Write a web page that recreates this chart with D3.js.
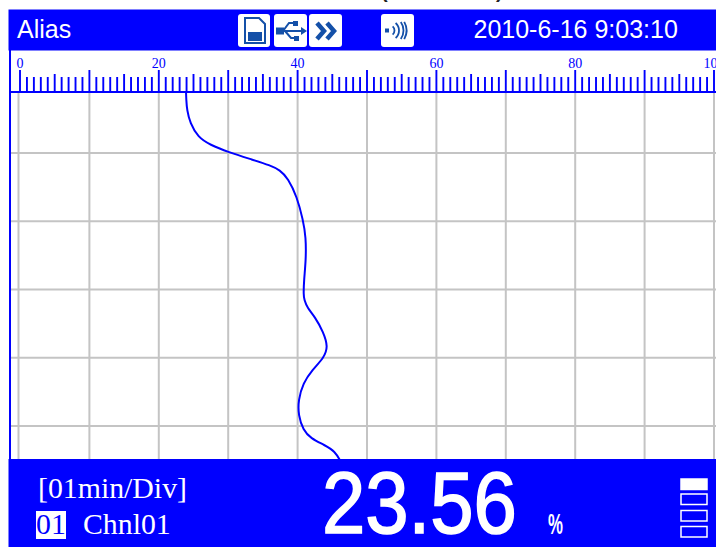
<!DOCTYPE html>
<html>
<head>
<meta charset="utf-8">
<script src="https://cdn.jsdelivr.net/npm/d3@7"></script>
<style>
  html, body { margin: 0; padding: 0; background: #fff; overflow: hidden; }
  svg { display: block; }
  .sans { font-family: "Liberation Sans", Arial, sans-serif; }
  .serif { font-family: "Liberation Serif", "Times New Roman", serif; }
</style>
</head>
<body>
<script>
const width = 716;
const height = 547;
const blue = "#0000ff";
const iconBlue = "#1450a8";

// recorder readings, newest at the top of the chart
const minutes = [0.10, 0.22, 0.37, 0.56, 0.77, 0.88, 0.985, 1.10, 1.18, 1.25, 1.37, 1.64, 1.98, 2.23, 2.57, 2.86, 3.08, 3.15,
  3.27, 3.40, 3.62, 3.84, 4.00, 4.18, 4.37, 4.62, 4.84, 5.06, 5.18, 5.28, 5.37, 5.52];
const values = [23.92, 23.96, 24.06, 24.5, 25.65, 27.38, 29.97, 33.57, 36.02, 37.46, 38.62, 39.91, 40.78, 41.2, 41.2, 40.92, 40.85, 40.96,
  41.4, 42.5, 43.7, 44.4, 43.8, 42.1, 40.8, 40.1, 40.1, 40.8, 41.9, 43.9, 45.4, 46.2];
const rulerLabels = [0, 20, 40, 60, 80, 100];
const minuteLines = [1, 2, 3, 4, 5];
const levelBars = [0, 1, 2, 3];

var svg = d3.select("body").append("svg")
    .attr("width", width)
    .attr("height", height);

const xScale = d3.scaleLinear().domain([0, 100]).range([20, 714]);
const yScale = d3.scaleLinear().domain([0, 6]).range([84.75, 494.25]);

const plotTop = 92;
const plotBottom = 459;

// clipped title left over above the screen
svg.selectAll("text.cut")
    .data([{t: "(", x: 381}, {t: ")", x: 496}])
    .enter()
    .append("text")
    .attr("class", "cut sans")
    .attr("x", function(d){ return d.x; })
    .attr("y", -2)
    .attr("font-size", 20)
    .attr("font-weight", "bold")
    .attr("fill", "#222")
    .text(function(d){ return d.t; });

// header band
svg.append("rect").attr("x", 8.5).attr("y", 9.5).attr("width", 707.5).attr("height", 41)
    .attr("fill", blue);
svg.append("rect").attr("x", 9).attr("y", 50).attr("width", 2).attr("height", 410)
    .attr("fill", blue);

svg.append("text").attr("class", "sans")
    .attr("x", 17).attr("y", 38).attr("font-size", 25).attr("fill", "#fff")
    .text("Alias");
svg.append("text").attr("class", "sans")
    .attr("x", 473.5).attr("y", 38).attr("font-size", 25).attr("fill", "#fff")
    .text("2010-6-16 9:03:10");

// status icons
function iconBox(x, w) {
  var g = svg.append("g").attr("transform", "translate(" + x + ",14)");
  g.append("rect").attr("width", w).attr("height", 33).attr("rx", 3).attr("fill", "#fff");
  return g;
}

var sd = iconBox(238, 32);
sd.append("path").attr("d", "M7 4H21L27 10V29H7Z")
    .attr("fill", "none").attr("stroke", iconBlue).attr("stroke-width", 2);
sd.append("rect").attr("x", 10).attr("y", 18).attr("width", 14).attr("height", 9).attr("fill", iconBlue);

var usb = iconBox(274, 33);
usb.append("path").attr("d", "M3 17H30M9 17L15 9H20M11 17L17 24H21")
    .attr("fill", "none").attr("stroke", iconBlue).attr("stroke-width", 2);
usb.append("rect").attr("x", 2).attr("y", 13.5).attr("width", 8).attr("height", 7).attr("fill", iconBlue);
usb.append("rect").attr("x", 19).attr("y", 7).attr("width", 5).attr("height", 5).attr("fill", iconBlue);
usb.append("rect").attr("x", 20).attr("y", 22).attr("width", 5).attr("height", 5).attr("fill", iconBlue);
usb.append("path").attr("d", "M27 13L33 17L27 21Z").attr("fill", iconBlue);

var more = iconBox(309, 33);
more.append("path").attr("d", "M8 9L15 17L8 25M18 9L25 17L18 25")
    .attr("fill", "none").attr("stroke", iconBlue).attr("stroke-width", 4.5);

var signal = iconBox(381, 33);
signal.append("rect").attr("x", 4).attr("y", 14.5).attr("width", 4).attr("height", 4).attr("fill", iconBlue);
signal.append("g").attr("transform", "translate(8,16.5)")
    .selectAll("path")
    .data([5.5, 10, 14.5, 17.5])
    .enter()
    .append("path")
    .attr("d", function(r){
      var a = Math.min(0.85, 9 / r);
      return d3.arc()({innerRadius: r - 0.9, outerRadius: r + 0.9, startAngle: Math.PI / 2 - a, endAngle: Math.PI / 2 + a});
    })
    .attr("fill", iconBlue);

// grid
var grid = svg.append("g").attr("stroke", "#c4c4c4").attr("stroke-width", 2);
grid.selectAll("line.v")
    .data(d3.range(0, 101, 10))
    .enter()
    .append("line")
    .attr("class", "v")
    .attr("x1", function(d){ return d == 0 ? 18.5 : xScale(d); })
    .attr("x2", function(d){ return d == 0 ? 18.5 : xScale(d); })
    .attr("y1", plotTop)
    .attr("y2", plotBottom);
grid.selectAll("line.h")
    .data(minuteLines)
    .enter()
    .append("line")
    .attr("class", "h")
    .attr("x1", 11)
    .attr("x2", width)
    .attr("y1", function(d){ return yScale(d); })
    .attr("y2", function(d){ return yScale(d); });

// ruler
var ruler = svg.append("g").attr("stroke", blue);
ruler.selectAll("line")
    .data(d3.range(0, 101))
    .enter()
    .append("line")
    .attr("x1", function(d){ return xScale(d); })
    .attr("x2", function(d){ return xScale(d); })
    .attr("y1", 92)
    .attr("y2", function(d){
      if (d % 10 == 0) return 70;
      if (d % 5 == 0) return 74;
      return 77;
    })
    .attr("stroke-width", 1.9);
svg.append("rect").attr("x", 9).attr("y", 91).attr("width", 707).attr("height", 2).attr("fill", blue);

svg.selectAll("text.rule")
    .data(rulerLabels)
    .enter()
    .append("text")
    .attr("class", "rule serif")
    .attr("x", function(d){ return xScale(d); })
    .attr("y", 68)
    .attr("text-anchor", "middle")
    .attr("font-size", 14)
    .attr("fill", blue)
    .text(function(d){ return d; });

// trend line
var line = d3.line()
    .x(function(d, i){ return xScale(values[i]); })
    .y(function(d){ return yScale(d); })
    .curve(d3.curveBasis);
svg.append("path")
    .attr("d", line(minutes))
    .attr("fill", "none")
    .attr("stroke", blue)
    .attr("stroke-width", 2);

// footer band
svg.append("rect").attr("x", 8.5).attr("y", 459).attr("width", 707.5).attr("height", 88).attr("fill", blue);

svg.append("text").attr("class", "serif")
    .attr("x", 38).attr("y", 498).attr("font-size", 29.8).attr("fill", "#fff")
    .text("[01min/Div]");
svg.append("rect").attr("x", 36).attr("y", 511).attr("width", 30).attr("height", 28).attr("fill", "#fff");
svg.append("text").attr("class", "serif")
    .attr("x", 36).attr("y", 534).attr("font-size", 29.8).attr("fill", blue)
    .text("01");
svg.append("text").attr("class", "serif")
    .attr("x", 83).attr("y", 534).attr("font-size", 29.8).attr("fill", "#fff")
    .text("Chnl01");

svg.append("text").attr("class", "sans")
    .attr("transform", "translate(322,533) scale(0.885,1)")
    .attr("font-size", 88)
    .attr("fill", "#fff")
    .attr("stroke", "#fff")
    .attr("stroke-width", 1.6)
    .text("23.56");
svg.append("text").attr("class", "sans")
    .attr("transform", "translate(548,534) scale(0.56,1)")
    .attr("font-size", 30)
    .attr("font-weight", "bold")
    .attr("fill", "#fff")
    .text("%");

// level bars
svg.selectAll("rect.level")
    .data(levelBars)
    .enter()
    .append("rect")
    .attr("class", "level")
    .attr("x", 681)
    .attr("y", function(d){ return [479, 494, 510.5, 526.5][d]; })
    .attr("width", 26)
    .attr("height", 10.5)
    .attr("fill", function(d){ return d == 0 ? "#fff" : "none"; })
    .attr("stroke", "#fff")
    .attr("stroke-width", 1.5);
</script>
</body>
</html>
